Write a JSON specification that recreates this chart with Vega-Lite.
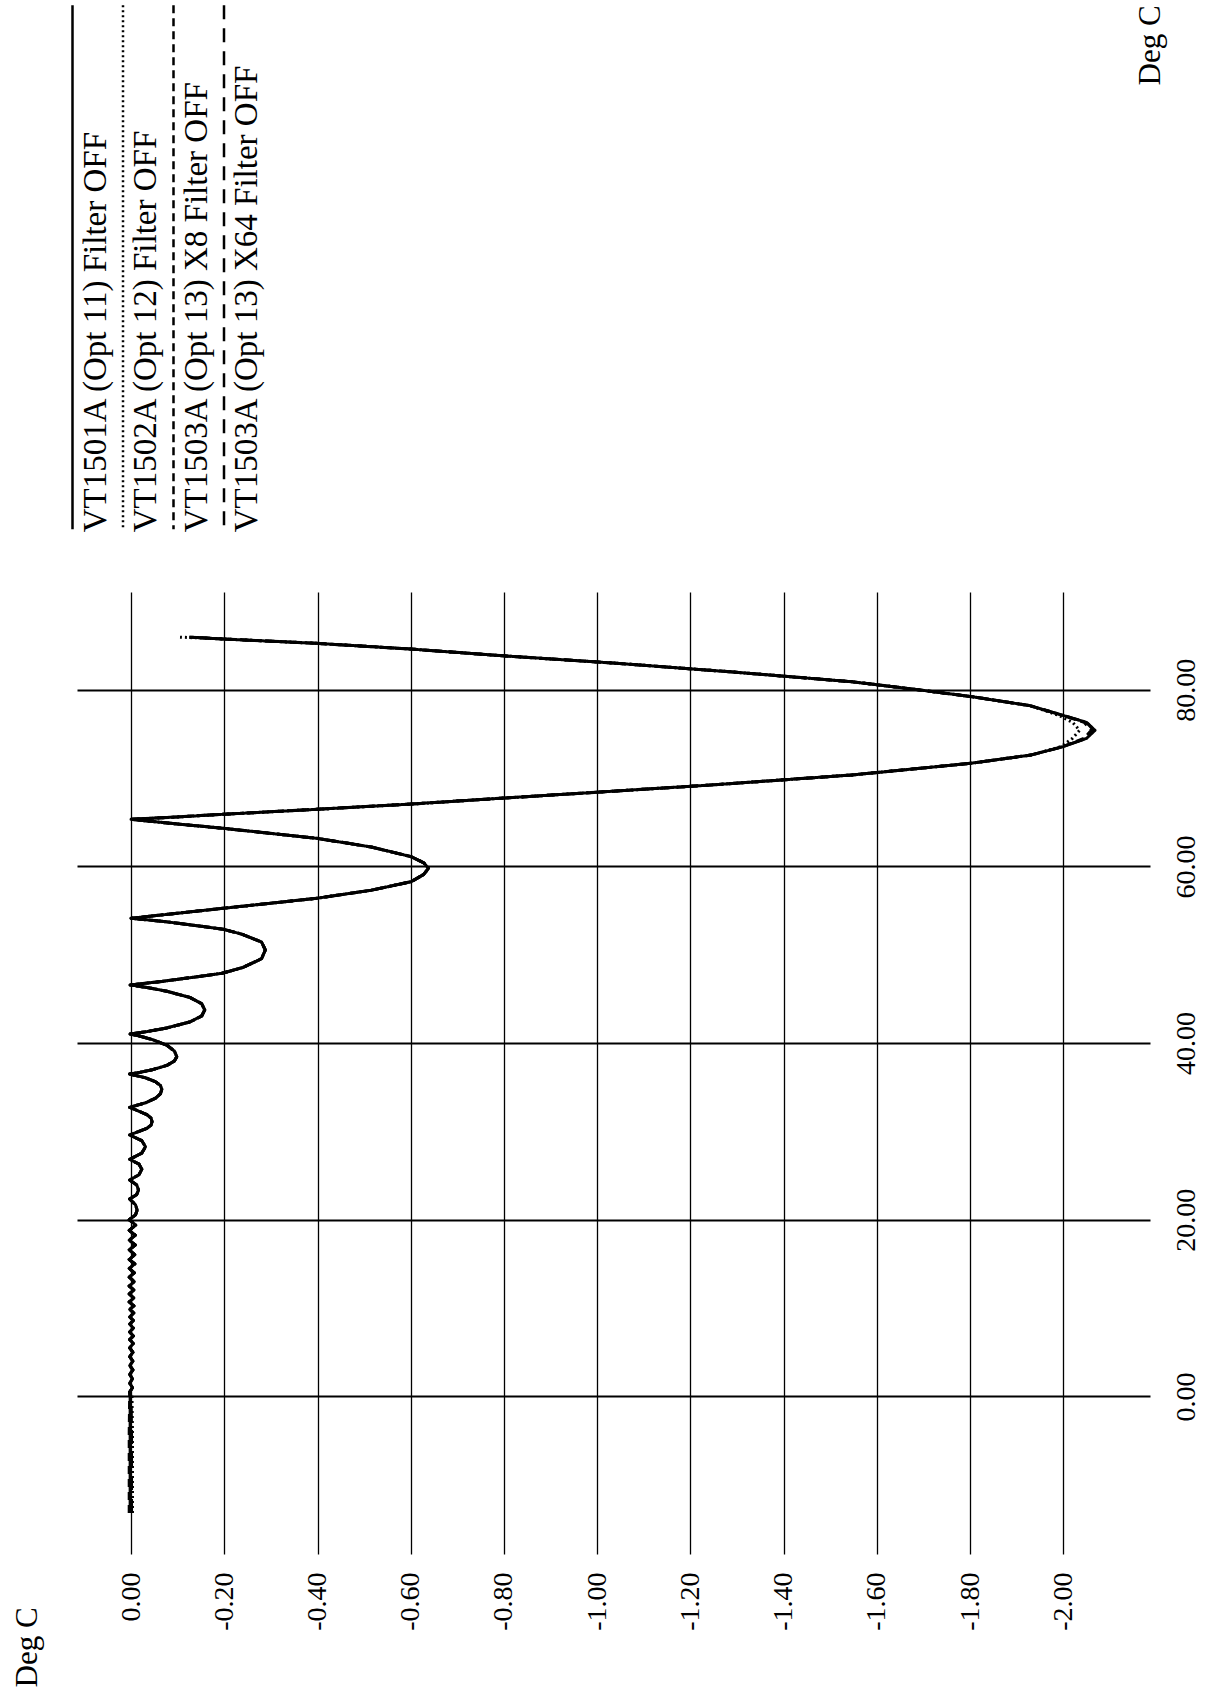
{
  "$schema": "https://vega.github.io/schema/vega-lite/v6.json",
  "width": 1073,
  "height": 962,
  "autosize": {"type": "none"},
  "padding": {"left": 77, "top": 592, "right": 65, "bottom": 140},
  "background": "white",
  "config": {"view": {"stroke": null}, "font": "Liberation Serif"},
  "data": {"values": [
    {"T": -13.2, "a": 0.002, "b": -0.003, "c": 0.004, "d": -0.001},
    {"T": -8, "a": 0.002, "b": -0.003, "c": 0.004, "d": -0.001},
    {"T": -4, "a": 0.002, "b": -0.003, "c": 0.004, "d": -0.001},
    {"T": 0, "a": 0.002, "b": -0.002, "c": 0.003, "d": 0.0},
    {"T": 0.5, "a": 0.003, "b": 0.003, "c": 0.003, "d": 0.003},
    {"T": 1.0, "a": -0.003, "b": -0.003, "c": -0.003, "d": -0.003},
    {"T": 1.5, "a": 0.003, "b": 0.003, "c": 0.003, "d": 0.003},
    {"T": 2.0, "a": -0.003, "b": -0.003, "c": -0.003, "d": -0.003},
    {"T": 2.5, "a": 0.003, "b": 0.003, "c": 0.003, "d": 0.003},
    {"T": 3.0, "a": -0.004, "b": -0.004, "c": -0.004, "d": -0.004},
    {"T": 3.5, "a": 0.003, "b": 0.003, "c": 0.003, "d": 0.003},
    {"T": 4.0, "a": -0.004, "b": -0.004, "c": -0.004, "d": -0.004},
    {"T": 4.5, "a": 0.003, "b": 0.003, "c": 0.003, "d": 0.003},
    {"T": 5.0, "a": -0.004, "b": -0.004, "c": -0.004, "d": -0.004},
    {"T": 5.5, "a": 0.003, "b": 0.003, "c": 0.003, "d": 0.003},
    {"T": 6.0, "a": -0.005, "b": -0.005, "c": -0.005, "d": -0.005},
    {"T": 6.45, "a": 0.003, "b": 0.003, "c": 0.003, "d": 0.003},
    {"T": 6.85, "a": -0.005, "b": -0.005, "c": -0.005, "d": -0.005},
    {"T": 7.3, "a": 0.003, "b": 0.003, "c": 0.003, "d": 0.003},
    {"T": 7.75, "a": -0.005, "b": -0.005, "c": -0.005, "d": -0.005},
    {"T": 8.2, "a": 0.003, "b": 0.003, "c": 0.003, "d": 0.003},
    {"T": 8.6, "a": -0.005, "b": -0.005, "c": -0.005, "d": -0.005},
    {"T": 9.0, "a": 0.003, "b": 0.003, "c": 0.003, "d": 0.003},
    {"T": 9.45, "a": -0.006, "b": -0.006, "c": -0.006, "d": -0.006},
    {"T": 9.85, "a": 0.003, "b": 0.003, "c": 0.003, "d": 0.003},
    {"T": 10.25, "a": -0.006, "b": -0.006, "c": -0.006, "d": -0.006},
    {"T": 10.7, "a": 0.004, "b": 0.004, "c": 0.004, "d": 0.004},
    {"T": 11.15, "a": -0.006, "b": -0.006, "c": -0.006, "d": -0.006},
    {"T": 11.6, "a": 0.004, "b": 0.004, "c": 0.004, "d": 0.004},
    {"T": 12.05, "a": -0.006, "b": -0.006, "c": -0.006, "d": -0.006},
    {"T": 12.5, "a": 0.004, "b": 0.004, "c": 0.004, "d": 0.004},
    {"T": 13.0, "a": -0.007, "b": -0.007, "c": -0.007, "d": -0.007},
    {"T": 13.5, "a": 0.004, "b": 0.004, "c": 0.004, "d": 0.004},
    {"T": 14.0, "a": -0.007, "b": -0.007, "c": -0.007, "d": -0.007},
    {"T": 14.5, "a": 0.004, "b": 0.004, "c": 0.004, "d": 0.004},
    {"T": 15.0, "a": -0.008, "b": -0.008, "c": -0.008, "d": -0.008},
    {"T": 15.5, "a": 0.004, "b": 0.004, "c": 0.004, "d": 0.004},
    {"T": 16.05, "a": -0.008, "b": -0.008, "c": -0.008, "d": -0.008},
    {"T": 16.6, "a": 0.004, "b": 0.004, "c": 0.004, "d": 0.004},
    {"T": 17.15, "a": -0.009, "b": -0.009, "c": -0.009, "d": -0.009},
    {"T": 17.7, "a": 0.004, "b": 0.004, "c": 0.004, "d": 0.004},
    {"T": 18.25, "a": -0.009, "b": -0.009, "c": -0.009, "d": -0.009},
    {"T": 18.8, "a": 0.004, "b": 0.004, "c": 0.004, "d": 0.004},
    {"T": 19.4, "a": -0.010, "b": -0.010, "c": -0.010, "d": -0.010},
    {"T": 20.0, "a": 0.004, "b": 0.004, "c": 0.004, "d": 0.004},
    {"T": 20.55, "a": -0.0095, "b": -0.0095, "c": -0.0095, "d": -0.0095},
    {"T": 21.1, "a": -0.013, "b": -0.013, "c": -0.013, "d": -0.013},
    {"T": 21.7, "a": -0.0095, "b": -0.0095, "c": -0.0095, "d": -0.0095},
    {"T": 22.35, "a": 0.003, "b": 0.003, "c": 0.003, "d": 0.003},
    {"T": 22.85, "a": -0.012, "b": -0.012, "c": -0.012, "d": -0.012},
    {"T": 23.37, "a": -0.016, "b": -0.016, "c": -0.016, "d": -0.016},
    {"T": 23.95, "a": -0.012, "b": -0.012, "c": -0.012, "d": -0.012},
    {"T": 24.5, "a": 0.003, "b": 0.003, "c": 0.003, "d": 0.003},
    {"T": 25.1, "a": -0.017, "b": -0.017, "c": -0.017, "d": -0.017},
    {"T": 25.72, "a": -0.023, "b": -0.023, "c": -0.023, "d": -0.023},
    {"T": 26.3, "a": -0.017, "b": -0.017, "c": -0.017, "d": -0.017},
    {"T": 26.85, "a": 0.003, "b": 0.003, "c": 0.003, "d": 0.003},
    {"T": 27.55, "a": -0.023, "b": -0.023, "c": -0.023, "d": -0.023},
    {"T": 28.27, "a": -0.031, "b": -0.031, "c": -0.031, "d": -0.031},
    {"T": 28.95, "a": -0.023, "b": -0.023, "c": -0.023, "d": -0.023},
    {"T": 29.6, "a": 0.003, "b": 0.003, "c": 0.003, "d": 0.003},
    {"T": 30.35, "a": -0.034, "b": -0.034, "c": -0.034, "d": -0.034},
    {"T": 30.72, "a": -0.043, "b": -0.043, "c": -0.043, "d": -0.043},
    {"T": 31.1, "a": -0.045, "b": -0.045, "c": -0.045, "d": -0.045},
    {"T": 31.5, "a": -0.043, "b": -0.043, "c": -0.043, "d": -0.043},
    {"T": 31.9, "a": -0.034, "b": -0.034, "c": -0.034, "d": -0.034},
    {"T": 32.73, "a": 0.003, "b": 0.003, "c": 0.003, "d": 0.003},
    {"T": 33.24, "a": -0.031, "b": -0.031, "c": -0.031, "d": -0.031},
    {"T": 33.75, "a": -0.052, "b": -0.052, "c": -0.052, "d": -0.052},
    {"T": 34.26, "a": -0.063, "b": -0.063, "c": -0.063, "d": -0.063},
    {"T": 34.77, "a": -0.066, "b": -0.066, "c": -0.066, "d": -0.066},
    {"T": 35.2, "a": -0.063, "b": -0.063, "c": -0.063, "d": -0.063},
    {"T": 35.64, "a": -0.052, "b": -0.052, "c": -0.052, "d": -0.052},
    {"T": 36.07, "a": -0.031, "b": -0.031, "c": -0.031, "d": -0.031},
    {"T": 36.5, "a": 0.003, "b": 0.003, "c": 0.003, "d": 0.003},
    {"T": 36.7, "a": -0.020, "b": -0.020, "c": -0.020, "d": -0.020},
    {"T": 36.99, "a": -0.046, "b": -0.046, "c": -0.046, "d": -0.046},
    {"T": 37.48, "a": -0.077, "b": -0.077, "c": -0.077, "d": -0.077},
    {"T": 37.97, "a": -0.093, "b": -0.093, "c": -0.093, "d": -0.093},
    {"T": 38.46, "a": -0.098, "b": -0.098, "c": -0.098, "d": -0.098},
    {"T": 39.1, "a": -0.093, "b": -0.093, "c": -0.093, "d": -0.093},
    {"T": 39.75, "a": -0.077, "b": -0.077, "c": -0.077, "d": -0.077},
    {"T": 40.39, "a": -0.046, "b": -0.046, "c": -0.046, "d": -0.046},
    {"T": 40.77, "a": -0.020, "b": -0.020, "c": -0.020, "d": -0.020},
    {"T": 41.03, "a": 0.002, "b": 0.002, "c": 0.002, "d": 0.002},
    {"T": 41.3, "a": -0.034, "b": -0.034, "c": -0.034, "d": -0.034},
    {"T": 41.71, "a": -0.0765, "b": -0.0765, "c": -0.0765, "d": -0.0765},
    {"T": 42.39, "a": -0.126, "b": -0.126, "c": -0.126, "d": -0.126},
    {"T": 43.07, "a": -0.1515, "b": -0.1515, "c": -0.1515, "d": -0.1515},
    {"T": 43.75, "a": -0.158, "b": -0.158, "c": -0.158, "d": -0.158},
    {"T": 44.46, "a": -0.1515, "b": -0.1515, "c": -0.1515, "d": -0.1515},
    {"T": 45.17, "a": -0.126, "b": -0.126, "c": -0.126, "d": -0.126},
    {"T": 45.87, "a": -0.0765, "b": -0.0765, "c": -0.0765, "d": -0.0765},
    {"T": 46.3, "a": -0.034, "b": -0.034, "c": -0.034, "d": -0.034},
    {"T": 46.58, "a": 0.002, "b": 0.002, "c": 0.002, "d": 0.002},
    {"T": 46.98, "a": -0.066, "b": -0.066, "c": -0.066, "d": -0.066},
    {"T": 47.57, "a": -0.15, "b": -0.15, "c": -0.15, "d": -0.15},
    {"T": 47.9, "a": -0.195, "b": -0.195, "c": -0.195, "d": -0.195},
    {"T": 48.56, "a": -0.24, "b": -0.24, "c": -0.24, "d": -0.24},
    {"T": 49.55, "a": -0.28, "b": -0.28, "c": -0.28, "d": -0.28},
    {"T": 50.54, "a": -0.288, "b": -0.288, "c": -0.288, "d": -0.288},
    {"T": 51.44, "a": -0.28, "b": -0.28, "c": -0.28, "d": -0.28},
    {"T": 52.34, "a": -0.237, "b": -0.237, "c": -0.237, "d": -0.237},
    {"T": 52.88, "a": -0.198, "b": -0.198, "c": -0.198, "d": -0.198},
    {"T": 53.23, "a": -0.15, "b": -0.15, "c": -0.15, "d": -0.15},
    {"T": 53.77, "a": -0.07, "b": -0.07, "c": -0.07, "d": -0.07},
    {"T": 54.13, "a": 0.0, "b": 0.0, "c": 0.0, "d": 0.0},
    {"T": 54.7, "a": -0.10, "b": -0.10, "c": -0.10, "d": -0.10},
    {"T": 55.26, "a": -0.198, "b": -0.198, "c": -0.198, "d": -0.198},
    {"T": 56.39, "a": -0.398, "b": -0.398, "c": -0.398, "d": -0.398},
    {"T": 57.3, "a": -0.515, "b": -0.515, "c": -0.515, "d": -0.515},
    {"T": 58.27, "a": -0.601, "b": -0.601, "c": -0.601, "d": -0.601},
    {"T": 59.1, "a": -0.628, "b": -0.628, "c": -0.628, "d": -0.628},
    {"T": 59.78, "a": -0.638, "b": -0.638, "c": -0.638, "d": -0.638},
    {"T": 60.4, "a": -0.628, "b": -0.628, "c": -0.628, "d": -0.628},
    {"T": 61.1, "a": -0.601, "b": -0.601, "c": -0.601, "d": -0.601},
    {"T": 62.2, "a": -0.515, "b": -0.515, "c": -0.515, "d": -0.515},
    {"T": 63.18, "a": -0.398, "b": -0.398, "c": -0.398, "d": -0.398},
    {"T": 64.31, "a": -0.198, "b": -0.198, "c": -0.198, "d": -0.198},
    {"T": 64.8, "a": -0.10, "b": -0.10, "c": -0.10, "d": -0.10},
    {"T": 65.33, "a": 0.0, "b": 0.0, "c": 0.0, "d": 0.0},
    {"T": 65.6, "a": -0.10, "b": -0.10, "c": -0.10, "d": -0.10},
    {"T": 65.9, "a": -0.198, "b": -0.198, "c": -0.198, "d": -0.198},
    {"T": 66.46, "a": -0.398, "b": -0.398, "c": -0.398, "d": -0.398},
    {"T": 67.06, "a": -0.601, "b": -0.601, "c": -0.601, "d": -0.601},
    {"T": 67.71, "a": -0.792, "b": -0.792, "c": -0.792, "d": -0.792},
    {"T": 68.4, "a": -1.00, "b": -1.00, "c": -1.00, "d": -1.00},
    {"T": 69.2, "a": -1.24, "b": -1.24, "c": -1.24, "d": -1.24},
    {"T": 70.35, "a": -1.547, "b": -1.547, "c": -1.547, "d": -1.547},
    {"T": 71.67, "a": -1.801, "b": -1.801, "c": -1.801, "d": -1.801},
    {"T": 72.6, "a": -1.93, "b": -1.93, "c": -1.93, "d": -1.93},
    {"T": 73.55, "a": -1.999, "b": -1.995, "c": -1.999, "d": -1.999},
    {"T": 74.5, "a": -2.05, "b": -2.02, "c": -2.045, "d": -2.05},
    {"T": 75.4, "a": -2.068, "b": -2.035, "c": -2.06, "d": -2.065},
    {"T": 76.3, "a": -2.05, "b": -2.02, "c": -2.045, "d": -2.05},
    {"T": 77.1, "a": -1.999, "b": -1.99, "c": -1.999, "d": -1.999},
    {"T": 78.2, "a": -1.928, "b": -1.928, "c": -1.928, "d": -1.928},
    {"T": 79.2, "a": -1.805, "b": -1.805, "c": -1.805, "d": -1.805},
    {"T": 80.0, "a": -1.688, "b": -1.688, "c": -1.688, "d": -1.688},
    {"T": 80.9, "a": -1.547, "b": -1.547, "c": -1.547, "d": -1.547},
    {"T": 82.0, "a": -1.292, "b": -1.292, "c": -1.292, "d": -1.292},
    {"T": 83.0, "a": -1.04, "b": -1.04, "c": -1.04, "d": -1.04},
    {"T": 83.86, "a": -0.792, "b": -0.792, "c": -0.792, "d": -0.792},
    {"T": 84.6, "a": -0.601, "b": -0.601, "c": -0.601, "d": -0.601},
    {"T": 85.25, "a": -0.398, "b": -0.398, "c": -0.398, "d": -0.398},
    {"T": 85.74, "a": -0.198, "b": -0.198, "c": -0.198, "d": -0.198},
    {"T": 85.95, "a": -0.125, "b": -0.105, "c": -0.125, "d": -0.125}
  ]},
  "transform": [{"fold": ["a", "b", "c", "d"], "as": ["series", "e"]}],
  "mark": {"type": "line", "strokeWidth": 3, "color": "black", "strokeJoin": "round"},
  "encoding": {
    "x": {
      "field": "e", "type": "quantitative",
      "scale": {"domain": [-2.186, 0.116], "reverse": true, "nice": false, "zero": false},
      "axis": {
        "orient": "bottom",
        "values": [0, -0.2, -0.4, -0.6, -0.8, -1.0, -1.2, -1.4, -1.6, -1.8, -2.0],
        "format": ".2f",
        "labelExpr": "replace(datum.label, '\u2212', '-')",
        "domain": false, "ticks": false, "tickSize": 0,
        "grid": true, "gridColor": "black", "gridWidth": 1.3, "gridOpacity": 1,
        "labelAngle": 270, "labelAlign": "right", "labelBaseline": "middle", "labelPadding": 18,
        "labelFont": "Liberation Serif", "labelFontSize": 28, "labelColor": "black",
        "labelFlush": false, "labelOverlap": false, "labelBound": false,
        "title": "Deg C", "titleFont": "Liberation Serif", "titleFontSize": 31, "titleFontWeight": "normal",
        "titleColor": "black", "titleAngle": 270, "titleAlign": "left", "titleBaseline": "middle",
        "titleX": -50, "titleY": 133
      }
    },
    "y": {
      "field": "T", "type": "quantitative",
      "scale": {"domain": [-17.83, 91.06], "nice": false, "zero": false},
      "axis": {
        "orient": "right",
        "values": [0, 20, 40, 60, 80],
        "format": ".2f",
        "domain": false, "ticks": false, "tickSize": 0,
        "grid": true, "gridColor": "black", "gridWidth": 2, "gridOpacity": 1,
        "labelAngle": 270, "labelAlign": "center", "labelBaseline": "middle", "labelPadding": 36,
        "labelFont": "Liberation Serif", "labelFontSize": 28, "labelColor": "black",
        "labelFlush": false, "labelOverlap": false, "labelBound": false,
        "title": "Deg C", "titleFont": "Liberation Serif", "titleFontSize": 31, "titleFontWeight": "normal",
        "titleColor": "black", "titleAngle": 270, "titleAlign": "left", "titleBaseline": "middle",
        "titleX": 0, "titleY": -507
      }
    },
    "strokeDash": {
      "field": "series", "type": "nominal",
      "scale": {"domain": ["a", "b", "c", "d"], "range": [[1, 0], [2, 3], [8, 5], [14, 9]]},
      "legend": {
        "orient": "none", "legendX": -6, "legendY": -588.5,
        "direction": "horizontal", "columns": 4, "title": null, "padding": 0,
        "symbolType": "stroke", "symbolSize": 274576, "symbolStrokeWidth": 2.5,
        "symbolStrokeColor": "black", "symbolOffset": -262,
        "labelOffset": -240.5, "columnPadding": 4.5,
        "labelFont": "Liberation Serif", "labelFontSize": 33, "labelColor": "black", "labelLimit": 2000,
        "labelExpr": "datum.label == 'a' ? 'VT1501A (Opt 11) Filter OFF' : datum.label == 'b' ? 'VT1502A (Opt 12) Filter OFF' : datum.label == 'c' ? 'VT1503A (Opt 13) X8 Filter OFF' : 'VT1503A (Opt 13) X64 Filter OFF'",
        "encoding": {
          "labels": {"angle": {"value": 270}, "align": {"value": "left"}, "baseline": {"value": "middle"}, "dx": {"value": -265}},
          "symbols": {"angle": {"value": 90}}
        }
      }
    },
    "order": {"field": "T", "type": "quantitative"}
  }
}
